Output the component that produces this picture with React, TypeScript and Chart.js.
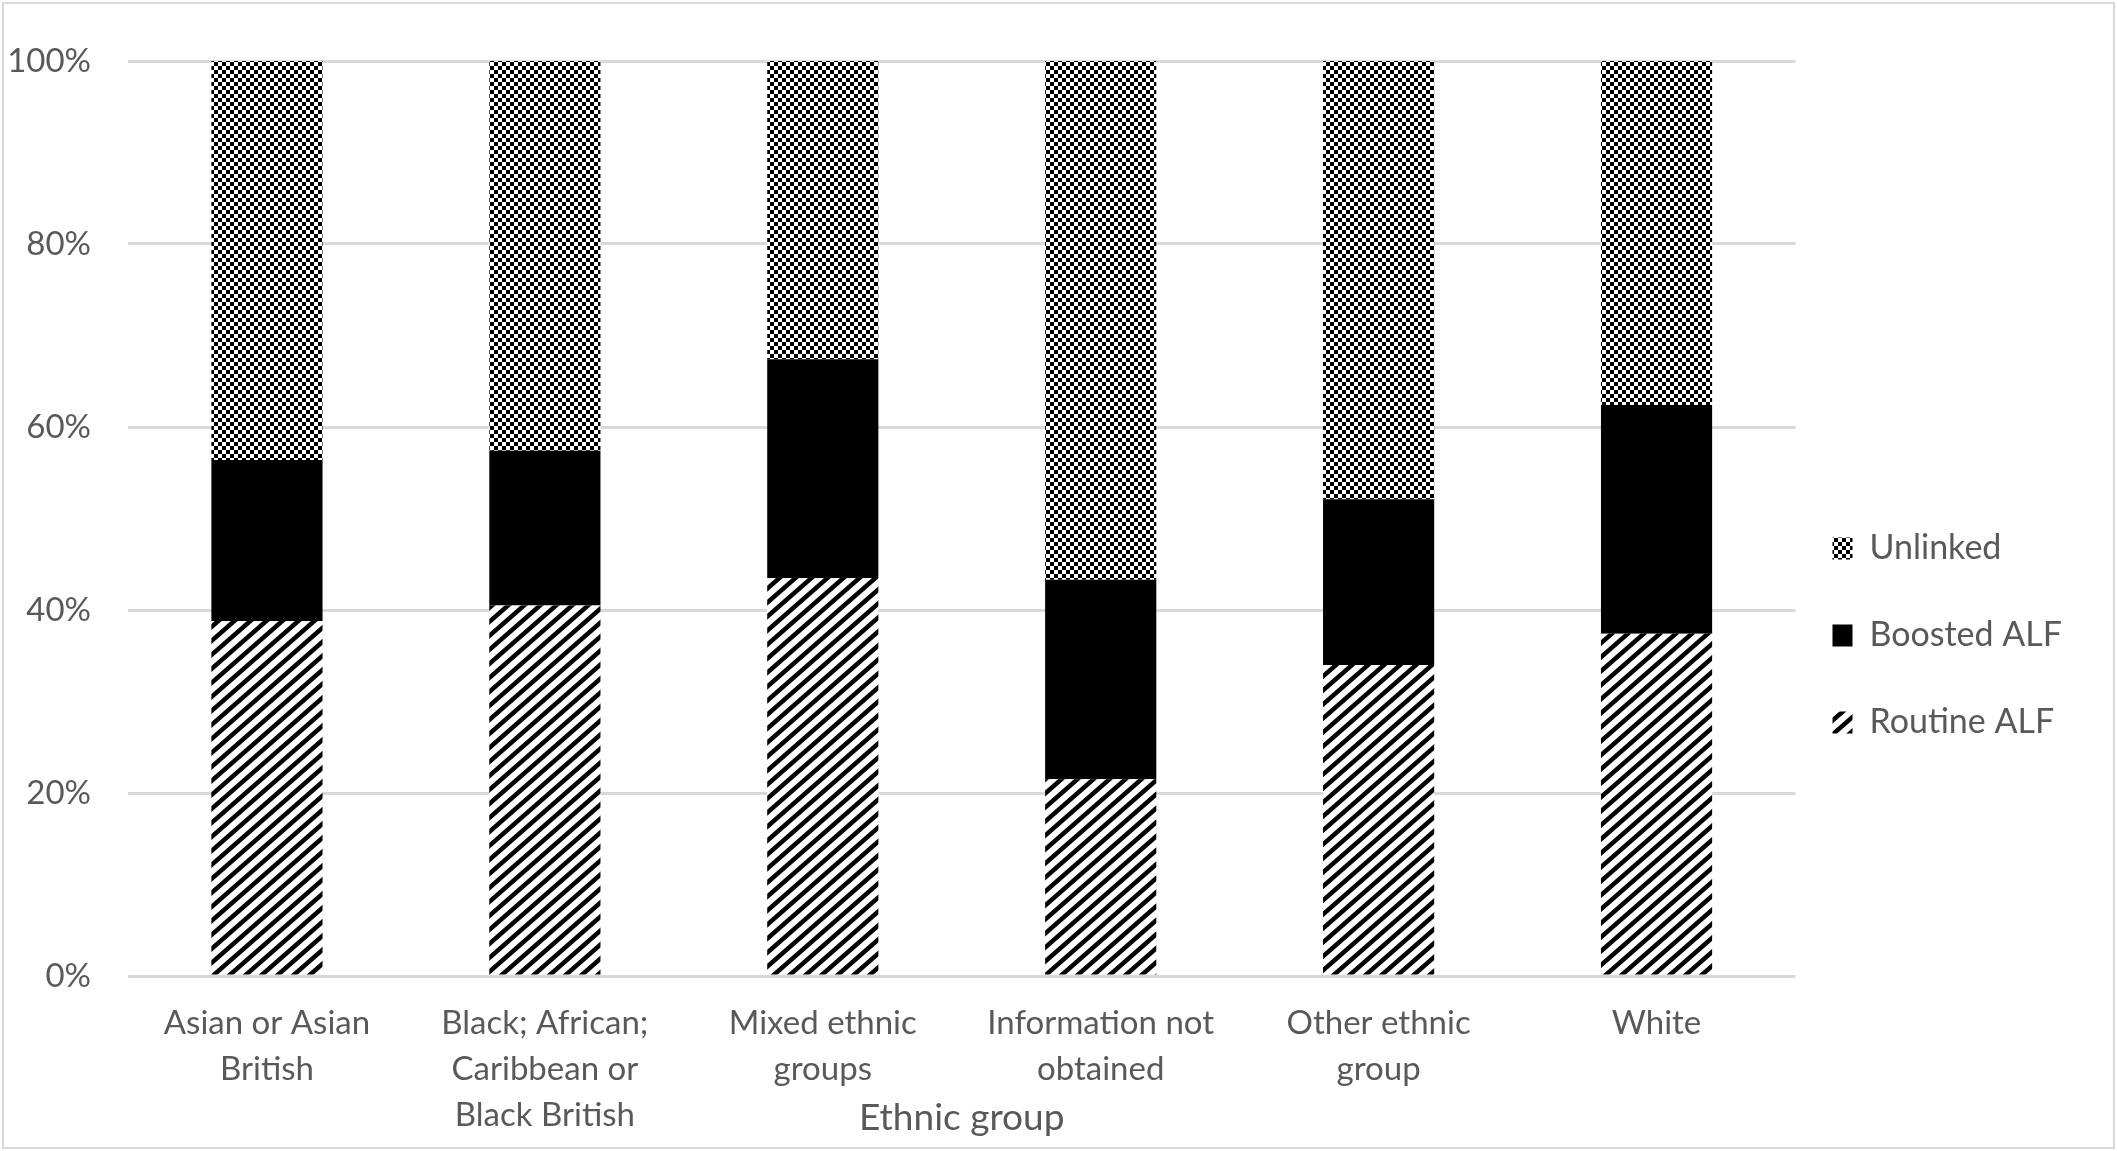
import { useEffect, useRef } from 'react';
import { Chart, registerables } from 'chart.js';

Chart.register(...registerables);

// ethnic groups, as wrapped on the axis
const categories = [
  ['Asian or Asian', 'British'],
  ['Black; African;', 'Caribbean or', 'Black British'],
  ['Mixed ethnic', 'groups'],
  ['Information not', 'obtained'],
  ['Other ethnic', 'group'],
  ['White']
];

// share of each group (%)
const routineAlf = [38.8, 40.5, 43.5, 21.5, 34.0, 37.4];
const boostedAlf = [17.6, 16.9, 23.9, 21.8, 18.1, 25.0];
const unlinked = [43.6, 42.6, 32.6, 56.7, 47.9, 37.6];

const yTicks = [0, 20, 40, 60, 80, 100];

const FONT = 'Lato';
const TEXT = '#595959';
const GRID = '#d9d9d9';

function stripePattern(ctx: CanvasRenderingContext2D) {
  const w = 16;
  const h = 14;
  const tile = document.createElement('canvas');
  tile.width = w;
  tile.height = h;
  const g = tile.getContext('2d')!;
  g.fillStyle = '#fff';
  g.fillRect(0, 0, w, h);
  g.strokeStyle = '#000';
  g.lineWidth = 4.5;
  for (let k = -1; k <= 1; k++) {
    g.beginPath();
    g.moveTo(-w, k * h + 2 * h);
    g.lineTo(2 * w, k * h - h);
    g.stroke();
  }
  return ctx.createPattern(tile, 'repeat')!;
}

function diamondPattern(ctx: CanvasRenderingContext2D) {
  const cell = 2;
  const tile = document.createElement('canvas');
  tile.width = cell * 4;
  tile.height = cell * 4;
  const g = tile.getContext('2d')!;
  g.fillStyle = '#fff';
  g.fillRect(0, 0, tile.width, tile.height);
  g.fillStyle = '#000';
  for (let i = 0; i < 4; i++) {
    for (let j = 0; j < 4; j++) {
      if (i === j || i + j === 3) g.fillRect(i * cell, j * cell, cell, cell);
    }
  }
  return ctx.createPattern(tile, 'repeat')!;
}

const frame = {
  id: 'frame',
  afterDraw(chart: Chart) {
    const c = chart.ctx;
    c.save();
    c.strokeStyle = GRID;
    c.lineWidth = 2;
    c.strokeRect(3, 3, chart.width - 6, chart.height - 6);
    c.restore();
  }
};

// move the legend block to where it sits in the original
const legendNudge = {
  id: 'legendNudge',
  afterLayout(chart: Chart) {
    const lg: any = (chart as any).legend;
    if (!lg) return;
    lg.left -= 16;
    lg.right -= 16;
    lg.top += 35;
    lg.bottom += 35;
  }
};

export default function App() {
  const canvasRef = useRef<HTMLCanvasElement>(null);
  const chartRef = useRef<Chart | null>(null);

  useEffect(() => {
    document.body.style.margin = '0';
    if (!canvasRef.current) return;
    const ctx = canvasRef.current.getContext('2d');
    if (!ctx) return;

    if (chartRef.current) {
      chartRef.current.destroy();
    }

    const bar = { barPercentage: 0.4, categoryPercentage: 1, borderWidth: 0 };

    chartRef.current = new Chart(ctx, {
      type: 'bar',
      data: {
        labels: categories,
        datasets: [
          { label: 'Routine ALF', data: routineAlf, backgroundColor: stripePattern(ctx), ...bar },
          { label: 'Boosted ALF', data: boostedAlf, backgroundColor: '#000000', ...bar },
          { label: 'Unlinked', data: unlinked, backgroundColor: diamondPattern(ctx), ...bar }
        ]
      },
      plugins: [frame, legendNudge],
      options: {
        animation: false,
        responsive: false,
        devicePixelRatio: 1,
        layout: { padding: { top: 61, left: 0, right: 29, bottom: 11 } },
        plugins: {
          tooltip: { enabled: false },
          legend: {
            position: 'right',
            reverse: true,
            labels: {
              color: TEXT,
              font: { family: FONT, size: 34 },
              boxWidth: 20,
              boxHeight: 22,
              padding: 53
            }
          }
        },
        scales: {
          x: {
            stacked: true,
            grid: { display: false },
            border: { display: false },
            ticks: {
              color: TEXT,
              font: { family: FONT, size: 33, lineHeight: 46 / 33 },
              padding: 16,
              maxRotation: 0,
              autoSkip: false
            },
            title: {
              display: true,
              text: 'Ethnic group',
              color: TEXT,
              font: { family: FONT, size: 37, lineHeight: 1.2 },
              padding: { top: 0, bottom: 0 }
            },
            afterFit: (scale) => {
              scale.height = 164;
            }
          },
          y: {
            stacked: true,
            min: 0,
            max: 100,
            grid: { color: GRID, lineWidth: 3, drawTicks: false },
            border: { display: false },
            afterBuildTicks: (scale) => {
              scale.ticks = yTicks.map((value) => ({ value }));
            },
            ticks: {
              color: TEXT,
              font: { family: FONT, size: 33 },
              padding: 37,
              callback: (v) => `${v}%`
            },
            afterFit: (scale) => {
              scale.width = 128;
            }
          }
        }
      }
    });

    return () => {
      if (chartRef.current) {
        chartRef.current.destroy();
        chartRef.current = null;
      }
    };
  }, []);

  return <canvas ref={canvasRef} width={2117} height={1151} style={{ display: 'block' }} />;
}
